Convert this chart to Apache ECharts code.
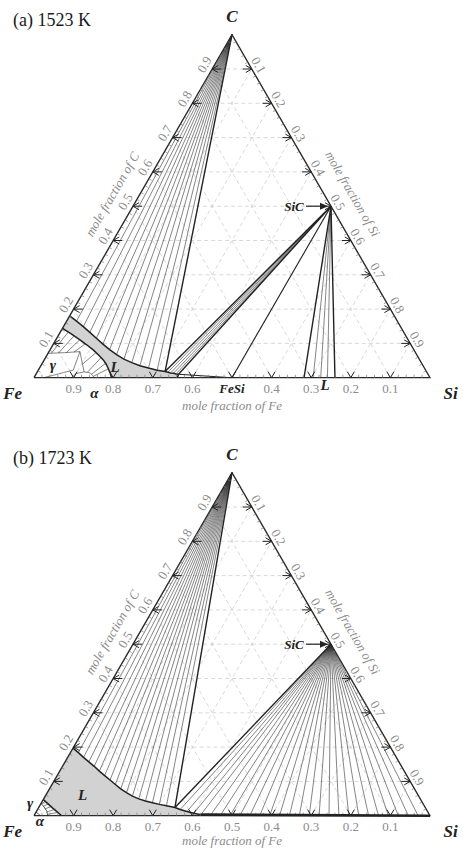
<!DOCTYPE html>
<html>
<head>
<meta charset="utf-8">
<script src="https://cdn.jsdelivr.net/npm/echarts@6/dist/echarts.min.js"></script>
<style>
html, body { margin: 0; padding: 0; background: #fff; }
#chart { width: 466px; height: 848px; }
</style>
</head>
<body>
<div id="chart"></div>
<script>
// every composition is [xSi, xC]  (xFe = 1 - xSi - xC)
var apexC = [0, 1];
var pointSiC = [0.5, 0.5];
var pointFeSi = [0.5, 0];

var tickValues = [0.1, 0.2, 0.3, 0.4, 0.5, 0.6, 0.7, 0.8, 0.9];
var leftLabels = ['0.1', '0.2', '0.3', '0.4', '0.5', '0.6', '0.7', '0.8', '0.9'];
var rightLabels = ['0.1', '0.2', '0.3', '0.4', '0.5', '0.6', '0.7', '0.8', '0.9'];
var baseLabelsA = ['0.9', '0.8', '0.7', '0.6', 'FeSi', '0.4', '0.3', '0.2', '0.1'];
var baseLabelsB = ['0.9', '0.8', '0.7', '0.6', '0.5', '0.4', '0.3', '0.2', '0.1'];

// ---- (a) 1523 K ----
var liqUpperA = [[0, 0.18], [0.025, 0.165], [0.05, 0.149], [0.075, 0.132], [0.1, 0.115], [0.125, 0.098],
    [0.15, 0.082], [0.175, 0.067], [0.2, 0.054], [0.225, 0.044], [0.25, 0.035], [0.275, 0.028],
    [0.3, 0.022], [0.322, 0.018], [0.33, 0.016], [0.338, 0.014], [0.346, 0.013], [0.353, 0.011], [0.36, 0.01]];
var liqLowerA = [[0, 0.144], [0.03, 0.128], [0.061, 0.11], [0.085, 0.096], [0.109, 0.081], [0.13, 0.066],
    [0.149, 0.052], [0.162, 0.04], [0.174, 0.027], [0.186, 0.013], [0.196, 0]];
var liqBaseEndA = [0.362, 0];
var liq2A = [0.682, 0.705, 0.724, 0.741, 0.76];
var gammaTopA = [[0, 0.071], [0.04, 0.073], [0.078, 0.076]];
var peakA = [[0.088, 0.022], [0.078, 0.076], [0.118, 0.017]];
var gammaLowA = [[0.024, 0], [0.045, 0.007], [0.067, 0.015], [0.088, 0.022]];
var alphaDomeA = [[0.095, 0], [0.1, 0.012], [0.118, 0.017], [0.135, 0.014], [0.148, 0.004], [0.15, 0]];
var gammaTiesA = [[[0.02, 0.133], [0.008, 0.071]], [[0.04, 0.122], [0.026, 0.072]],
    [[0.06, 0.11], [0.045, 0.073]], [[0.08, 0.099], [0.064, 0.075]]];
var alphaTiesA = [[[0.12, 0.073], [0.103, 0.04]], [[0.14, 0.058], [0.127, 0.016]],
    [[0.16, 0.042], [0.14, 0.01]], [[0.175, 0.026], [0.148, 0.004]]];

// ---- (b) 1723 K ----
var liqUpperB = [[0, 0.197], [0.02, 0.184], [0.04, 0.17], [0.06, 0.157], [0.08, 0.144], [0.1, 0.13],
    [0.12, 0.117], [0.14, 0.104], [0.16, 0.091], [0.18, 0.078], [0.2, 0.067], [0.22, 0.057],
    [0.24, 0.049], [0.26, 0.043], [0.28, 0.038], [0.3, 0.033], [0.32, 0.029], [0.344, 0.024],
    [0.36, 0.018], [0.38, 0.012], [0.4, 0.007], [0.42, 0.003], [0.445, 0.001]];
var liqLowerB = [[0, 0.047], [0.035, 0.023], [0.07, 0]];
var liqBaseEndB = [0.47, 0];
var sicFanB = [0.47, 0.495, 0.52, 0.545, 0.57, 0.595, 0.62, 0.645, 0.67, 0.695, 0.72, 0.745,
    0.77, 0.795, 0.82, 0.845, 0.87, 0.895, 0.92, 0.945, 0.97];
var gammaB = [[0, 0.036], [0.012, 0.026], [0.025, 0.014], [0.035, 0]];
var alphaB = [[0.016, 0], [0.008, 0.006], [0, 0.01]];
var gammaTiesB = [[[0.008, 0.043], [0.003, 0.034]], [[0.02, 0.036], [0.01, 0.027]],
    [[0.032, 0.028], [0.018, 0.02]], [[0.045, 0.019], [0.027, 0.011]], [[0.057, 0.01], [0.032, 0.004]]];

var SERIF = 'Liberation Serif';
var GREY = '#8c8c8c';
var INK = '#222';

// text look: [size, italic, bold]
var F_TICK = [13, false, false];
var F_AXIS = [13, true, false];
var F_VERTEX = [17, true, true];
var F_MARK = [15, true, true];
var F_SMALL = [13, true, true];

function fontStyle(f) {
    return { fontFamily: SERIF, fontSize: f[0], fontStyle: f[1] ? 'italic' : 'normal', fontWeight: f[2] ? 'bold' : 'normal' };
}

function toXY(p) {
    return [p[0] + p[1] / 2, p[1]];
}

function pathSeries(g, paths, color, width, z, dash) {
    return {
        type: 'lines', coordinateSystem: 'cartesian2d', xAxisIndex: g, yAxisIndex: g,
        polyline: true, silent: true, z: z,
        lineStyle: { color: color, width: width, type: dash || 'solid', opacity: 1, curveness: 0 },
        data: paths.map(function(p) { return { coords: p.map(toXY) }; })
    };
}

function areaSeries(g, pts, fill) {
    return {
        type: 'custom', coordinateSystem: 'cartesian2d', xAxisIndex: g, yAxisIndex: g, silent: true, z: 2,
        data: [toXY(pts[0])],
        renderItem: function(params, api) {
            var points = pts.map(function(p) { return api.coord(toXY(p)); });
            return { type: 'polygon', shape: { points: points }, style: { fill: fill, stroke: null } };
        }
    };
}

function textSeries(g, items) {
    return {
        type: 'custom', coordinateSystem: 'cartesian2d', xAxisIndex: g, yAxisIndex: g, silent: true, z: 6,
        data: items.map(function(it) { return toXY(it.at); }),
        renderItem: function(params, api) {
            var it = items[params.dataIndex];
            var c = api.coord([api.value(0), api.value(1)]);
            var st = fontStyle(it.font);
            st.text = it.text;
            st.fill = it.color || INK;
            st.align = 'center';
            st.verticalAlign = 'middle';
            return { type: 'text', x: c[0] + (it.dx || 0), y: c[1] + (it.dy || 0), rotation: it.rot || 0, style: st };
        }
    };
}

function tickSeries(g, ticks, major) {
    return {
        type: 'custom', coordinateSystem: 'cartesian2d', xAxisIndex: g, yAxisIndex: g, silent: true, z: 4,
        data: ticks.map(function(t) { return toXY(t.at); }),
        renderItem: function(params, api) {
            var side = ticks[params.dataIndex].side;
            var c = api.coord([api.value(0), api.value(1)]);
            var x = c[0], y = c[1], lines;
            if (major) {
                if (side === 'left') lines = [[[x + 6, y - 3.5], [x, y], [x + 6, y + 3.5]], [[x, y], [x + 9, y]]];
                else if (side === 'right') lines = [[[x - 6, y - 3.5], [x, y], [x - 6, y + 3.5]], [[x, y], [x - 9, y]]];
                else lines = [[[x - 3.5, y - 6], [x, y], [x + 3.5, y - 6]]];
            } else {
                if (side === 'left') lines = [[[x, y], [x + 2.6, y + 1.5]]];
                else if (side === 'right') lines = [[[x, y], [x - 2.6, y + 1.5]]];
                else lines = [[[x, y], [x, y - 3]]];
            }
            return {
                type: 'group',
                children: lines.map(function(p) {
                    return { type: 'polyline', shape: { points: p },
                        style: { stroke: major ? INK : '#777', lineWidth: major ? 1 : 0.7, fill: null } };
                })
            };
        }
    };
}

function sicArrow(g) {
    return {
        type: 'custom', coordinateSystem: 'cartesian2d', xAxisIndex: g, yAxisIndex: g, silent: true, z: 6,
        data: [toXY(pointSiC)],
        renderItem: function(params, api) {
            var c = api.coord([api.value(0), api.value(1)]);
            var st = fontStyle(F_SMALL);
            st.text = 'SiC';
            st.fill = INK;
            st.align = 'center';
            st.verticalAlign = 'middle';
            return {
                type: 'group',
                children: [
                    { type: 'text', x: c[0] - 37, y: c[1], style: st },
                    { type: 'line', shape: { x1: c[0] - 25, y1: c[1], x2: c[0] - 10, y2: c[1] },
                        style: { stroke: INK, lineWidth: 1.2 } },
                    { type: 'polygon', shape: { points: [[c[0] - 3, c[1]], [c[0] - 11, c[1] - 3.5], [c[0] - 11, c[1] + 3.5]] },
                        style: { fill: INK } }
                ]
            };
        }
    };
}

function frameSeries(g, baseLabels, feTitleGap) {
    var grid = [], ticks = [], minor = [], labels = [];
    tickValues.forEach(function(t, i) {
        grid.push([[0, t], [1 - t, t]], [[t, 0], [t, 1 - t]], [[t, 0], [0, t]]);
        ticks.push({ at: [0, t], side: 'left' }, { at: [t, 1 - t], side: 'right' }, { at: [t, 0], side: 'base' });
        labels.push({ at: [0, t], text: leftLabels[i], dx: -7.8, dy: -4.5, rot: Math.PI / 3, font: F_TICK, color: GREY });
        labels.push({ at: [t, 1 - t], text: rightLabels[i], dx: 7, dy: -4, rot: -Math.PI / 3, font: F_TICK, color: GREY });
        var bl = baseLabels[i];
        labels.push({ at: [t, 0], text: bl, dy: 11, font: bl === 'FeSi' ? F_SMALL : F_TICK, color: bl === 'FeSi' ? INK : GREY });
    });
    for (var k = 1; k < 50; k++) {
        if (k % 5 === 0) continue;
        var m = k * 0.02;
        minor.push({ at: [0, m], side: 'left' }, { at: [m, 1 - m], side: 'right' }, { at: [m, 0], side: 'base' });
    }
    labels.push({ at: [0, 0.5], text: 'mole fraction of C', dx: -20.8, dy: -12, rot: Math.PI / 3, font: F_AXIS, color: GREY });
    labels.push({ at: [0.5, 0.5], text: 'mole fraction of Si', dx: 21.7, dy: -12.5, rot: -Math.PI / 3, font: F_AXIS, color: GREY });
    labels.push({ at: [0.5, 0], text: 'mole fraction of Fe', dy: feTitleGap, font: F_AXIS, color: GREY });
    labels.push({ at: apexC, text: 'C', dy: -18, font: F_VERTEX });
    labels.push({ at: [0, 0], text: 'Fe', dx: -21.3, dy: 15.5, font: F_VERTEX });
    labels.push({ at: [1, 0], text: 'Si', dx: 20.7, dy: 15.5, font: F_VERTEX });
    return [
        pathSeries(g, grid, '#c9c9c9', 0.7, 1, [4, 3]),
        pathSeries(g, [[[0, 0], [1, 0], apexC, [0, 0]]], '#2a2a2a', 1.4, 4),
        tickSeries(g, ticks, true),
        tickSeries(g, minor, false),
        textSeries(g, labels),
        sicArrow(g)
    ];
}

function fromTo(a, ends) {
    return ends.map(function(e) { return [a, e]; });
}

var seriesA = frameSeries(0, baseLabelsA, 28).concat([
    areaSeries(0, liqUpperA.concat([liqBaseEndA], liqLowerA.slice().reverse()), '#d2d2d2'),
    pathSeries(0, fromTo(apexC, liqUpperA.slice(1, 13)), '#333', 0.6, 3),
    pathSeries(0, fromTo(pointSiC, liqUpperA.slice(14, 18)), '#333', 0.6, 3),
    pathSeries(0, fromTo(pointSiC, liq2A.slice(1, 4).map(function(s) { return [s, 0]; })), '#333', 0.6, 3),
    pathSeries(0, [[apexC, liqUpperA[13]], [pointSiC, liqUpperA[13]], [pointSiC, liqUpperA[18]],
        [pointSiC, [liq2A[0], 0]], [pointSiC, [liq2A[4], 0]]], '#222', 1.4, 3),
    pathSeries(0, [[pointSiC, pointFeSi], [liqUpperA[18], pointFeSi]], '#222', 1.1, 3),
    pathSeries(0, [liqUpperA, liqLowerA, [liqUpperA[18], liqBaseEndA]], '#222', 1.5, 3),
    pathSeries(0, gammaTiesA.concat(alphaTiesA), '#333', 0.6, 3),
    pathSeries(0, [gammaTopA, peakA, gammaLowA, alphaDomeA], '#333', 0.6, 3),
    pathSeries(0, [[[0.1517, -0.0257], [0.1215, 0.002]]], '#222', 1, 3),
    textSeries(0, [
        { at: [0.1885, 0.032], text: 'L', font: F_MARK },
        { at: [0.029, 0.037], text: 'γ', font: F_MARK },
        { at: [0.175, -0.0455], text: 'α', font: F_MARK },
        { at: [0.7455, -0.0213], text: 'L', font: F_MARK }
    ])
]);

var seriesB = frameSeries(1, baseLabelsB, 25).concat([
    areaSeries(1, liqUpperB.concat([liqBaseEndB], liqLowerB.slice().reverse()), '#d2d2d2'),
    pathSeries(1, fromTo(apexC, liqUpperB.slice(1, 17)), '#333', 0.6, 3),
    pathSeries(1, fromTo(pointSiC, liqUpperB.slice(18).concat(sicFanB.map(function(s) { return [s, 0]; }))), '#333', 0.6, 3),
    pathSeries(1, [[apexC, liqUpperB[17]], [pointSiC, liqUpperB[17]]], '#222', 1.4, 3),
    pathSeries(1, [liqUpperB, liqLowerB], '#222', 1.5, 3),
    pathSeries(1, [[liqUpperB[21], [1, 0]]], '#222', 2.6, 4),
    pathSeries(1, gammaTiesB, '#333', 0.6, 3),
    pathSeries(1, [gammaB, alphaB], '#333', 0.8, 3),
    textSeries(1, [
        { at: [0.092, 0.0612], text: 'L', font: F_MARK },
        { at: [-0.029, 0.038], text: 'γ', font: F_MARK },
        { at: [0.0235, -0.0166], text: 'α', font: F_MARK }
    ])
]);

var chart = echarts.init(document.getElementById('chart'), null, { renderer: 'svg' });
chart.setOption({
    animation: false,
    backgroundColor: '#fff',
    graphic: [
        { type: 'text', left: 13, top: 11, style: { text: '(a) 1523 K', fontFamily: SERIF, fontSize: 18, fill: '#1a1a1a' } },
        { type: 'text', left: 13, top: 449, style: { text: '(b) 1723 K', fontFamily: SERIF, fontSize: 18, fill: '#1a1a1a' } }
    ],
    grid: [
        { left: 34, top: 34.7, width: 396, height: 343 },
        { left: 34, top: 472.7, width: 396, height: 343 }
    ],
    xAxis: [
        { gridIndex: 0, type: 'value', min: 0, max: 1, show: false },
        { gridIndex: 1, type: 'value', min: 0, max: 1, show: false }
    ],
    yAxis: [
        { gridIndex: 0, type: 'value', min: 0, max: 1, show: false },
        { gridIndex: 1, type: 'value', min: 0, max: 1, show: false }
    ],
    series: seriesA.concat(seriesB)
});
</script>
</body>
</html>
